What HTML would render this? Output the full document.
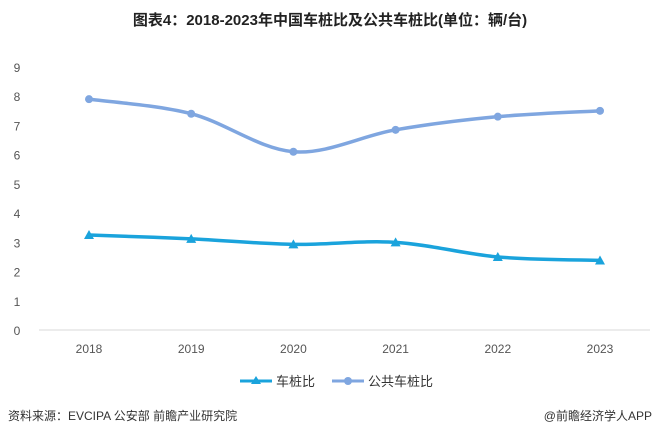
<!DOCTYPE html>
<html><head><meta charset="utf-8"><style>
body{margin:0;background:#fff;width:660px;height:438px;overflow:hidden;font-family:"Liberation Sans","Noto Sans CJK SC",sans-serif}
</style></head><body>
<svg width="660" height="438" id="c">
<text x="330" y="25" text-anchor="middle" font-size="15" font-weight="bold" fill="#222">图表4：2018-2023年中国车桩比及公共车桩比(单位：辆/台)</text>
<line x1="39" y1="330" x2="650" y2="330" stroke="#d9d9d9"/>
<g id="yt"></g><g id="xt"></g><g id="lines"></g>
<g>
<g><line x1="240" y1="381" x2="272" y2="381" stroke="#1aa3dc" stroke-width="3"/><polygon points="256,376 261,384 251,384" fill="#1aa3dc"/><text x="276" y="386" font-size="13" fill="#333">车桩比</text></g>
<g><line x1="332" y1="381" x2="364" y2="381" stroke="#7fa6e0" stroke-width="3"/><circle cx="348" cy="381" r="4" fill="#7fa6e0"/><text x="368" y="386" font-size="13" fill="#333">公共车桩比</text></g>
</g>
<text x="8" y="420" font-size="12" fill="#333">资料来源：EVCIPA 公安部 前瞻产业研究院</text>
<text x="652" y="420" text-anchor="end" font-size="12" fill="#333">@前瞻经济学人APP</text>
</svg>
<script>
const years=["2018","2019","2020","2021","2022","2023"];
const carRatio=[3.25,3.12,2.93,3.0,2.5,2.38];
const publicRatio=[7.9,7.4,6.1,6.85,7.3,7.5];
const yTicks=[0,1,2,3,4,5,6,7,8,9];
const NS="http://www.w3.org/2000/svg";
const xs=i=>89+i*(600-89)/(years.length-1);
const ys=v=>330-v*(330-67)/9;
function mk(t,a,p){const e=document.createElementNS(NS,t);for(const k in a)e.setAttribute(k,a[k]);document.getElementById(p).appendChild(e);return e;}
yTicks.forEach(v=>{const t=mk('text',{x:17,y:ys(v)+5,'text-anchor':'middle','font-size':12,fill:'#555'},'yt');t.textContent=v;

});
years.forEach((y,i)=>{const t=mk('text',{x:xs(i),y:353,'text-anchor':'middle','font-size':12,fill:'#555'},'xt');t.textContent=y;

});
function path(vals){const p=vals.map((v,i)=>[xs(i),ys(v)]);let d=`M${p[0][0]},${p[0][1]}`;
for(let i=0;i<p.length-1;i++){const p0=p[i-1]||p[i],p1=p[i],p2=p[i+1],p3=p[i+2]||p2;
d+=` C${p1[0]+(p2[0]-p0[0])/6},${p1[1]+(p2[1]-p0[1])/6} ${p2[0]-(p3[0]-p1[0])/6},${p2[1]-(p3[1]-p1[1])/6} ${p2[0]},${p2[1]}`;}return d;}
const l1=mk('path',{d:path(publicRatio),fill:'none',stroke:'#7fa6e0','stroke-width':3.5},'lines');


const l2=mk('path',{d:path(carRatio),fill:'none',stroke:'#1aa3dc','stroke-width':3.5},'lines');


publicRatio.forEach((v,i)=>{const c=mk('circle',{cx:xs(i),cy:ys(v),r:4,fill:'#7fa6e0'},'lines');

});
carRatio.forEach((v,i)=>{const x=xs(i),y=ys(v);const c=mk('polygon',{points:`${x},${y-5} ${x+5},${y+4} ${x-5},${y+4}`,fill:'#1aa3dc'},'lines');

});
</script>
</body></html>
